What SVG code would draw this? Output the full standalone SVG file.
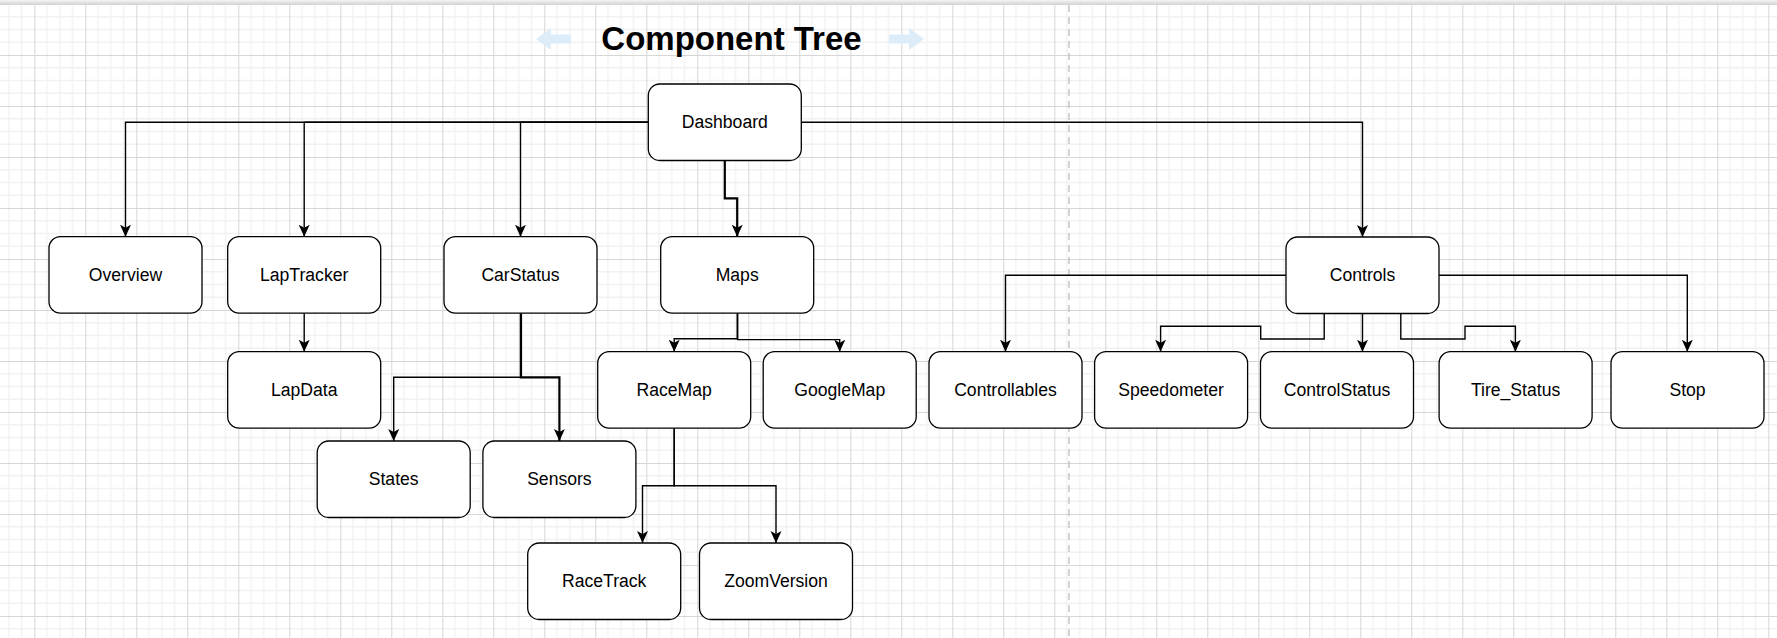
<svg xmlns="http://www.w3.org/2000/svg" width="1777" height="638" viewBox="0 0 1777 638">
<defs>
<pattern id="grid" x="34.3" y="55" width="51" height="51" patternUnits="userSpaceOnUse">
<path d="M12.75,0 V51 M25.5,0 V51 M38.25,0 V51 M0,12.75 H51 M0,25.5 H51 M0,38.25 H51" stroke="#f1f1f1" stroke-width="1.3" fill="none"/>
<path d="M0.5,0 V51 M0,0.5 H51" stroke="#d6d6d6" stroke-width="1" fill="none"/>
</pattern>
<linearGradient id="topbar" x1="0" y1="0" x2="0" y2="1">
<stop offset="0" stop-color="#f4f4f4"/>
<stop offset="1" stop-color="#d4d4d4"/>
</linearGradient>
<marker id="arr" markerUnits="userSpaceOnUse" markerWidth="13" markerHeight="12" refX="12" refY="5.5" orient="auto" viewBox="0 0 13 12">
<path d="M12,5.5 L0,0 L3,5.5 L0,11 Z" fill="#000"/>
</marker>
<style>
.node rect { fill: #ffffff; stroke: #000000; stroke-width: 1.3; }
.node text { font-family: "Liberation Sans", Arial, sans-serif; font-size: 17.6px; fill: #000; text-anchor: middle; dominant-baseline: central; }
.edge { fill: none; stroke: #000; stroke-width: 1.4; marker-end: url(#arr); }
.thick { stroke-width: 2.2; }
</style>
</defs>
<rect width="1777" height="638" fill="#ffffff"/>
<rect width="1777" height="638" fill="url(#grid)"/>
<rect x="0" y="0" width="1777" height="4.5" fill="url(#topbar)"/>
<line x1="1069" y1="5" x2="1069" y2="638" stroke="#bdbdbd" stroke-width="1.3" stroke-dasharray="7 5"/>

<g id="title">
<polygon points="536,39 551,28 551,34.5 571,34.5 571,43.5 551,43.5 551,50" fill="#dcedf9"/>
<polygon points="924,39 909,28 909,34.5 889,34.5 889,43.5 909,43.5 909,50" fill="#dcedf9"/>
<text x="731.5" y="50" font-family="'Liberation Sans', Arial, sans-serif" font-size="33" font-weight="bold" text-anchor="middle" fill="#000">Component Tree</text>
</g>

<g id="connectors">
<path class="edge" d="M648.3,122.3 H125.5 V236.7"/>
<path class="edge" d="M648.3,122.3 H304.2 V236.7"/>
<path class="edge" d="M648.3,122.3 H520.5 V236.7"/>
<path class="edge thick" d="M724.8,160.5 V198.3 H737.2 V236.7"/>
<path class="edge" d="M801.3,122.3 H1362.5 V237"/>
<path class="edge" d="M304.2,313.2 V351.7"/>
<path class="edge" d="M520.5,313.2 V377.3 H393.7 V441"/>
<path class="edge thick" d="M521,313.2 V377.3 H559.4 V441"/>
<path class="edge" d="M737.2,313.2 V338.7 H674.2 V351.7"/>
<path class="edge" d="M737.7,313.2 V339.6 H839.7 V351.7"/>
<path class="edge" d="M674.2,428.2 V485.7 H642.5 V543"/>
<path class="edge" d="M674.2,428.2 V485.7 H776 V543"/>
<path class="edge" d="M1286,275.3 H1005.5 V351.7"/>
<path class="edge" d="M1324.2,313.5 V339 H1260.7 V326.3 H1160.6 V351.7"/>
<path class="edge" d="M1362.5,313.5 V351.7"/>
<path class="edge" d="M1400.8,313.5 V339 H1465 V326.3 H1515.4 V351.7"/>
<path class="edge" d="M1439,275.3 H1687.3 V351.7"/>
</g>

<g id="Dashboard" class="node"><rect x="648.3" y="84" width="153" height="76.5" rx="11.5"/><text x="724.8" y="122.3">Dashboard</text></g>
<g id="Overview" class="node"><rect x="49" y="236.7" width="153" height="76.5" rx="11.5"/><text x="125.5" y="275">Overview</text></g>
<g id="LapTracker" class="node"><rect x="227.7" y="236.7" width="153" height="76.5" rx="11.5"/><text x="304.2" y="275">LapTracker</text></g>
<g id="CarStatus" class="node"><rect x="444" y="236.7" width="153" height="76.5" rx="11.5"/><text x="520.5" y="275">CarStatus</text></g>
<g id="Maps" class="node"><rect x="660.7" y="236.7" width="153" height="76.5" rx="11.5"/><text x="737.2" y="275">Maps</text></g>
<g id="Controls" class="node"><rect x="1286" y="237" width="153" height="76.5" rx="11.5"/><text x="1362.5" y="275.3">Controls</text></g>
<g id="LapData" class="node"><rect x="227.7" y="351.7" width="153" height="76.5" rx="11.5"/><text x="304.2" y="390">LapData</text></g>
<g id="RaceMap" class="node"><rect x="597.7" y="351.7" width="153" height="76.5" rx="11.5"/><text x="674.2" y="390">RaceMap</text></g>
<g id="GoogleMap" class="node"><rect x="763.2" y="351.7" width="153" height="76.5" rx="11.5"/><text x="839.7" y="390">GoogleMap</text></g>
<g id="Controllables" class="node"><rect x="929" y="351.7" width="153" height="76.5" rx="11.5"/><text x="1005.5" y="390">Controllables</text></g>
<g id="Speedometer" class="node"><rect x="1094.6" y="351.7" width="153" height="76.5" rx="11.5"/><text x="1171.1" y="390">Speedometer</text></g>
<g id="ControlStatus" class="node"><rect x="1260.5" y="351.7" width="153" height="76.5" rx="11.5"/><text x="1337" y="390">ControlStatus</text></g>
<g id="Tire_Status" class="node"><rect x="1439.1" y="351.7" width="153" height="76.5" rx="11.5"/><text x="1515.6" y="390">Tire_Status</text></g>
<g id="Stop" class="node"><rect x="1611" y="351.7" width="153" height="76.5" rx="11.5"/><text x="1687.5" y="390">Stop</text></g>
<g id="States" class="node"><rect x="317.2" y="441" width="153" height="76.5" rx="11.5"/><text x="393.7" y="479.3">States</text></g>
<g id="Sensors" class="node"><rect x="482.9" y="441" width="153" height="76.5" rx="11.5"/><text x="559.4" y="479.3">Sensors</text></g>
<g id="RaceTrack" class="node"><rect x="527.7" y="543" width="153" height="76.5" rx="11.5"/><text x="604.2" y="581.3">RaceTrack</text></g>
<g id="ZoomVersion" class="node"><rect x="699.5" y="543" width="153" height="76.5" rx="11.5"/><text x="776" y="581.3">ZoomVersion</text></g>
</svg>
